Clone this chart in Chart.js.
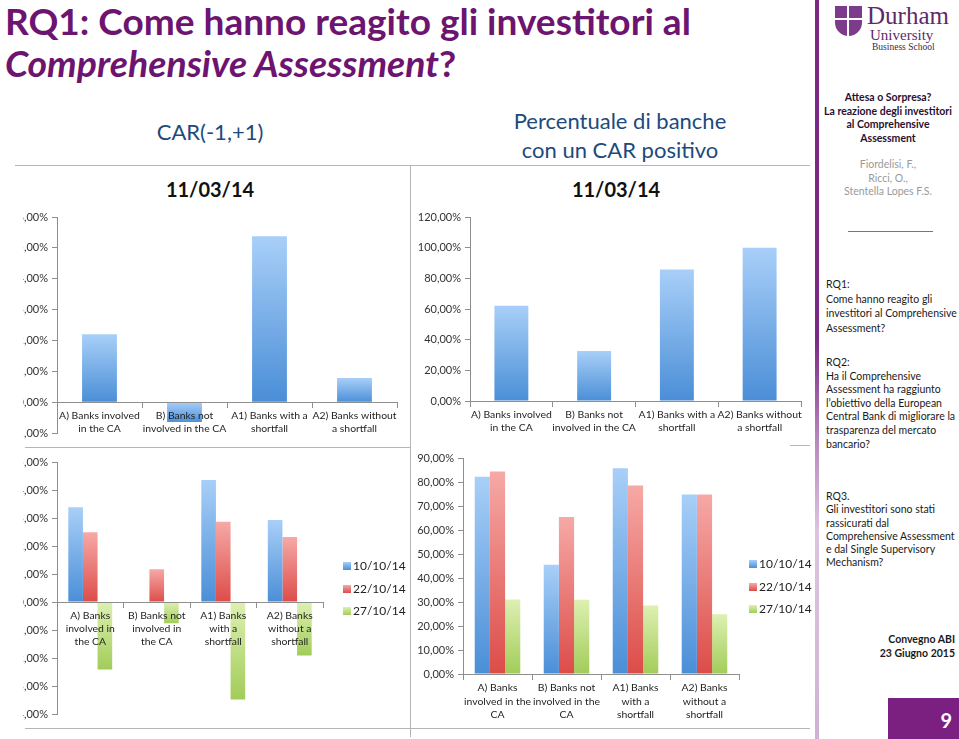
<!DOCTYPE html>
<html>
<head>
<meta charset="utf-8">
<script src="https://cdn.jsdelivr.net/npm/chart.js@4.4.1/dist/chart.umd.min.js"></script>
<style>
  body { margin: 0; width: 959px; height: 739px; overflow: hidden; background: #fff; position: relative; font-family: Lato, "Open Sans", sans-serif; }
  .abs { position: absolute; white-space: nowrap; }
  .box { position: absolute; overflow: hidden; }
  .inner { position: absolute; top: 0; }
  .title { left: 5px; font-size: 36px; line-height: 42px; font-weight: bold; color: #6c1470; transform-origin: left top; }
  .head { color: #1d4a7c; font-size: 22px; text-align: center; }
  .date { color: #111; font-size: 20px; font-weight: bold; text-align: center; }
  .hline { position: absolute; height: 1px; background: #b5b5b5; }
  .vline { position: absolute; width: 1px; background: #b5b5b5; }
  .side { font-size: 10.5px; color: #1a1a1a; line-height: 13.6px; }
  .legend { position: absolute; font-size: 12px; color: #222; }
  .legend div { height: 22.5px; line-height: 14px; }
  .legend span.sq { display: inline-block; width: 8px; height: 8px; margin-right: 2px; vertical-align: 0px; }
</style>
</head>
<body>

<div class="abs title" id="t1" style="top:0px">RQ1: Come hanno reagito gli investitori al</div>
<div class="abs title" id="t2" style="top:42px"><i>Comprehensive Assessment</i>?</div>

<div class="abs head" style="left:110px;width:200px;top:118px">CAR(-1,+1)</div>
<div class="abs head" style="left:470px;width:300px;top:106px;line-height:29px">Percentuale di banche<br>con un CAR positivo</div>
<div class="abs date" style="left:110px;width:200px;top:177px">11/03/14</div>
<div class="abs date" style="left:516px;width:200px;top:177px">11/03/14</div>

<div class="hline" style="left:15px;width:795px;top:165px"></div>
<div class="vline" style="left:410px;top:165px;height:572px"></div>
<div class="hline" style="left:25px;width:386px;top:447px"></div>
<div class="hline" style="left:790px;width:20px;top:445px"></div>
<div class="hline" style="left:25px;width:785px;top:728px"></div>

<!-- the left charts are clipped on their left edge, as on the slide -->
<div class="box" style="left:23px;top:205px;width:387px;height:242px">
  <div class="inner" style="left:-31px;width:418px;height:242px"><canvas id="carChart"></canvas></div>
</div>
<div class="box" style="left:411px;top:205px;width:400px;height:242px"><canvas id="posChart"></canvas></div>
<div class="box" style="left:23px;top:448px;width:387px;height:280px">
  <div class="inner" style="left:-31px;width:418px;height:280px"><canvas id="carLateChart"></canvas></div>
</div>
<div class="box" style="left:411px;top:448px;width:404px;height:280px"><canvas id="posLateChart"></canvas></div>

<div class="legend" id="legCarLate" style="left:343px;top:559px"></div>
<div class="legend" id="legPosLate" style="left:749px;top:557px"></div>

<!-- sidebar -->
<div class="abs" style="left:815px;top:0;width:4px;height:739px;background:linear-gradient(to bottom,#7a2a84 0%,#7a2a84 46%,#b98bbf 60%,#dcc4df 72%,#cfb2d3 100%)"></div>
<div class="abs" style="left:835px;top:6px;width:27px;height:30px;background:#7d3b8c;border-radius:0 0 50% 50% / 0 0 45% 45%"></div>
<div class="abs" style="left:847px;top:6px;width:2px;height:30px;background:#fff"></div>
<div class="abs" style="left:835px;top:18px;width:27px;height:2px;background:#fff"></div>
<div class="abs" style="left:867px;top:2px;font-family:'Liberation Serif','DejaVu Serif',serif;font-size:25px;color:#5e2a6a;line-height:28px">Durham</div>
<div class="abs" style="left:870px;top:27px;font-family:'Liberation Serif','DejaVu Serif',serif;font-size:15px;color:#5e2a6a;line-height:16px">University</div>
<div class="abs" style="left:872px;top:42px;font-family:'Liberation Serif','DejaVu Serif',serif;font-size:9.5px;color:#3d2a44;line-height:11px">Business School</div>

<div class="abs side" style="left:820px;width:136px;top:91px;text-align:center;font-weight:bold;color:#2a1030">Attesa o Sorpresa?<br>La reazione degli investitori<br>al Comprehensive<br>Assessment</div>
<div class="abs side" style="left:820px;width:136px;top:158px;text-align:center;color:#9a9a9a">Fiordelisi, F.,<br>Ricci, O.,<br>Stentella Lopes F.S.</div>
<div class="hline" style="left:848px;width:85px;top:231px;background:#777"></div>
<div class="abs side" style="left:826px;top:277px;line-height:14.5px">RQ1:<br>Come hanno reagito gli<br>investitori al Comprehensive<br>Assessment?</div>
<div class="abs side" style="left:826px;top:356px">RQ2:<br>Ha il Comprehensive<br>Assessment ha raggiunto<br>l’obiettivo della European<br>Central Bank di migliorare la<br>trasparenza del mercato<br>bancario?</div>
<div class="abs side" style="left:826px;top:490px;line-height:13.3px">RQ3.<br>Gli investitori sono stati<br>rassicurati dal<br>Comprehensive Assessment<br>e dal Single Supervisory<br>Mechanism?</div>
<div class="abs side" style="left:820px;width:135px;top:633px;text-align:right;font-weight:bold;line-height:13.5px">Convegno ABI<br>23 Giugno 2015</div>
<div class="abs" style="left:888px;top:698px;width:71px;height:41px;background:#7b1f80"></div>
<div class="abs" style="left:888px;top:708px;width:64px;text-align:right;color:#fff;font-weight:bold;font-size:20px;line-height:24px">9</div>

<script>
// Categories and tick labels
const carCategories = [['A) Banks involved', 'in the CA'], ['B) Banks not', 'involved in the CA'], ['A1) Banks with a', 'shortfall'], ['A2) Banks without', 'a shortfall']];
const carLateCategories = [['A) Banks', 'involved in', 'the CA'], ['B) Banks not', 'involved in', 'the CA'], ['A1) Banks', 'with a', 'shortfall'], ['A2) Banks', 'without a', 'shortfall']];
const posLateCategories = [['A) Banks', 'involved in the', 'CA'], ['B) Banks not', 'involved in the', 'CA'], ['A1) Banks', 'with a', 'shortfall'], ['A2) Banks', 'without a', 'shortfall']];
const seriesNames = ['10/10/14', '22/10/14', '27/10/14'];

// CAR(-1,+1) on 11/03/14
const carValues = [2.2, -0.64, 5.38, 0.78];
// share of banks with a positive CAR on 11/03/14
const posValues = [62.1, 32.6, 85.8, 100];

// CAR in October
const carLate1010 = [3.38, 0, 4.36, 2.93];
const carLate2210 = [2.49, 1.17, 2.87, 2.32];
const carLate2710 = [-2.41, -0.76, -3.48, -1.91];

// positive CAR share in October
const posLate1010 = [82.4, 45.6, 86.0, 75.0];
const posLate2210 = [84.6, 65.6, 78.8, 75.0];
const posLate2710 = [31.1, 31.0, 28.6, 25.0];

const FONT = 'Lato, "Open Sans", sans-serif';
const AXIS = '#8e8e8e';

// gradient colours per series [top, bottom]
const blueFill = ['#a8cff8', '#4a8ed7'];
const redFill = ['#f6a9a6', '#dc4c48'];
const greenFill = ['#def0b2', '#a1cc58'];

function fmtPct(v) {
  return v.toFixed(2).replace('.', ',') + '%';
}

// each bar gets its own vertical gradient, light at top
function barFill(cols) {
  return function (c) {
    const y = c.chart.scales.y;
    if (c.type !== 'data' || !y || c.raw == null) return cols[1];
    const p0 = y.getPixelForValue(0);
    const p1 = y.getPixelForValue(c.raw);
    if (!isFinite(p0) || !isFinite(p1)) return cols[1];
    const g = c.chart.ctx.createLinearGradient(0, Math.min(p0, p1), 0, Math.max(p0, p1) + 0.5);
    g.addColorStop(0, cols[0]);
    g.addColorStop(1, cols[1]);
    return g;
  };
}

function makeChart(id, labels, datasets, yMin, yMax, step, yWidth, padding, lineH) {
  return new Chart(document.getElementById(id), {
    type: 'bar',
    data: { labels: labels, datasets: datasets },
    options: {
      responsive: true,
      maintainAspectRatio: false,
      animation: false,
      layout: { padding: padding },
      plugins: { legend: { display: false }, tooltip: { enabled: false } },
      scales: {
        x: {
          position: { y: 0 },
          ticks: { z: 1, color: '#1e1e1e', font: { family: FONT, size: 10.4, lineHeight: lineH }, maxRotation: 0, autoSkip: false, padding: 2 },
          grid: { z: 1, drawOnChartArea: false, tickLength: 5, color: AXIS, offset: true },
          border: { z: 1, color: AXIS }
        },
        y: {
          min: yMin,
          max: yMax,
          ticks: { stepSize: step, color: '#333', font: { family: FONT, size: 11 }, padding: 4, callback: v => fmtPct(v) },
          grid: { drawOnChartArea: false, tickLength: 5, color: AXIS },
          border: { color: AXIS },
          afterFit: s => { s.width = yWidth; }
        }
      }
    }
  });
}

function single(values) {
  return [{ data: values, backgroundColor: barFill(blueFill), barPercentage: 0.41, categoryPercentage: 1 }];
}

function triple(a, b, c) {
  const fills = [blueFill, redFill, greenFill];
  return [a, b, c].map((vals, i) => ({
    label: seriesNames[i],
    data: vals,
    backgroundColor: barFill(fills[i]),
    barPercentage: 1,
    categoryPercentage: 0.66
  }));
}

makeChart('carChart', carCategories, single(carValues), -1, 6, 1, 65, { top: 12, right: 13, bottom: 14, left: 0 }, 1.25);
makeChart('posChart', carCategories, single(posValues), 0, 120, 20, 59, { top: 12, right: 10, bottom: 46, left: 0 }, 1.25);
makeChart('carLateChart', carLateCategories, triple(carLate1010, carLate2210, carLate2710), -4, 5, 1, 65, { top: 14, right: 87, bottom: 14, left: 0 }, 1.25);
makeChart('posLateChart', posLateCategories, triple(posLate1010, posLate2210, posLate2710), 0, 90, 10, 52, { top: 9, right: 76, bottom: 54, left: 0 }, 1.3);

// html legends
function buildLegend(id) {
  const fills = [blueFill, redFill, greenFill];
  const el = document.getElementById(id);
  seriesNames.forEach((name, i) => {
    const row = document.createElement('div');
    row.innerHTML = '<span class="sq" style="background:linear-gradient(' + fills[i][0] + ',' + fills[i][1] + ')"></span>' + name;
    el.appendChild(row);
  });
}
buildLegend('legCarLate');
buildLegend('legPosLate');

// squeeze the title lines to the slide's widths
function fitWidth(id, w) {
  const el = document.getElementById(id);
  el.style.display = 'inline-block';
  el.style.transform = 'scaleX(' + (w / el.offsetWidth) + ')';
}
fitWidth('t1', 686);
fitWidth('t2', 451);
</script>
</body>
</html>
